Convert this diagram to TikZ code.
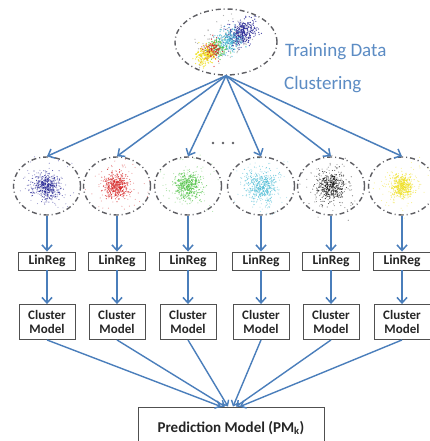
\documentclass[tikz,border=0pt]{standalone}
\usepackage{fontspec}
\setmainfont{Carlito}
\usetikzlibrary{arrows.meta,shapes.geometric}

\definecolor{flow}{RGB}{74,126,187}
\definecolor{labelblue}{RGB}{92,140,196}
\definecolor{rim}{RGB}{95,95,100}
\definecolor{boxline}{RGB}{80,80,80}
\definecolor{ptnavy}{RGB}{40,40,150}
\definecolor{ptred}{RGB}{215,35,35}
\definecolor{ptgreen}{RGB}{80,195,70}
\definecolor{ptcyan}{RGB}{80,190,215}
\definecolor{ptblack}{RGB}{20,20,20}
\definecolor{ptyellow}{RGB}{240,225,30}

% isotropic point cloud: centre x, centre y, colour, count, spread
\newcommand\scatterblob[5]{%
  \foreach \i in {1,...,#4}{%
    \pgfmathsetmacro\dx{#5*1.73*(rnd+rnd+rnd+rnd-2)}%
    \pgfmathsetmacro\dy{#5*1.73*(rnd+rnd+rnd+rnd-2)}%
    \fill[#3] ({#1+\dx},{#2+\dy}) circle (0.55);
  }%
}
% elongated point cloud along the rising diagonal: x, y, colour, count, spread along, spread across
\newcommand\streakblob[6]{%
  \foreach \i in {1,...,#4}{%
    \pgfmathsetmacro\pa{#5*1.73*(rnd+rnd+rnd+rnd-2)}%
    \pgfmathsetmacro\pb{#6*1.73*(rnd+rnd+rnd+rnd-2)}%
    \fill[#3] ({#1+0.87*\pa+0.5*\pb},{#2-0.5*\pa+0.87*\pb}) circle (0.65);
  }%
}

\begin{document}
\begin{tikzpicture}[x=1pt,y=-1pt,
  cloudrim/.style={ellipse, draw=rim, line width=1.4pt,
    dash pattern=on 5pt off 3pt on 1pt off 3pt, inner sep=0pt},
  flowarrow/.style={draw=flow, line width=1.5pt,
    -{Straight Barb[length=5.5pt,width=10pt,line width=1.5pt]}},
  flowline/.style={draw=flow, line width=1.4pt,
    -{Straight Barb[length=4.5pt,width=8pt,line width=1.4pt]}},
  regbox/.style={draw=boxline, line width=0.9pt, fill=white,
    minimum width=57pt, minimum height=18pt, inner sep=0pt,
    font=\fontsize{13.5}{14}\selectfont\bfseries, text=black!85},
  modelbox/.style={draw=boxline, line width=0.9pt, fill=white,
    minimum width=56pt, minimum height=35pt, inner sep=0pt, align=center,
    font=\fontsize{13}{14}\selectfont\bfseries, text=black!85},
  predbox/.style={draw=boxline, line width=0.9pt, fill=white,
    minimum width=186pt, minimum height=42pt, inner sep=0pt,
    font=\fontsize{15}{17}\selectfont\bfseries, text=black!85},
  caption/.style={anchor=west, inner sep=0pt, text=labelblue,
    font=\fontsize{19}{21}\selectfont}]

\clip (0,0) rectangle (430,441);
\fill[white] (0,0) rectangle (430,441);
\pgfmathsetseed{7}

% ---- training data cloud ----
\begin{scope}[opacity=0.85]
  \streakblob{226}{42}{black!35}{110}{16}{10}
  \streakblob{242}{33}{ptnavy}{330}{8}{5.5}
  \streakblob{229}{41}{ptcyan}{220}{6.5}{5.5}
  \streakblob{217}{48}{ptgreen}{120}{5}{4.5}
  \streakblob{211}{51}{ptred}{140}{5}{4.5}
  \streakblob{205}{55}{ptyellow}{180}{5.5}{4.5}
\end{scope}
\node[cloudrim, minimum width=102pt, minimum height=66pt] (td) at (226,42) {};
\node[caption] (lbltd) at (285,52) {Training Data};
\node[caption] (lblcl) at (284,85) {Clustering};

% ---- individual clusters ----
\foreach \n/\x/\c/\s in {1/47/ptnavy/6.5, 2/117/ptred/6, 3/188/ptgreen/6.5,
                         4/261/ptcyan/7.5, 5/331/ptblack/7, 6/402/ptyellow/5.5}{
  \begin{scope}[opacity=0.8]
    \scatterblob{\x}{186}{\c!60}{130}{11}
    \scatterblob{\x}{186}{\c}{380}{\s}
  \end{scope}
  \node[cloudrim, minimum width=67pt, minimum height=58pt] (c\n) at (\x,186) {};
  \node[regbox] (r\n) at (\x,261) {LinReg};
  \node[modelbox] (m\n) at (\x,322) {Cluster\\Model};
}

\node[predbox] (pm) at (231,428) {Prediction Model (PM\textsubscript{k})};

% dots between the third and fourth branch
\foreach \k/\x in {1/213, 2/223, 3/233}
  \fill[rim] (\x,143) circle (1.3) coordinate (dot\k);

% ---- connectors ----
\foreach \n in {1,...,6}{
  \draw[flowarrow] (td.south) -- (c\n.north);
  \draw[flowarrow] (c\n.south) -- (r\n.north);
  \draw[flowarrow] (r\n.south) -- (m\n.north);
}
\foreach \n/\s in {1/-10, 2/-6, 3/-3, 4/2, 5/5, 6/9}
  \draw[flowline] (m\n.south) -- ([xshift=\s pt]pm.north);

\end{tikzpicture}
\end{document}
